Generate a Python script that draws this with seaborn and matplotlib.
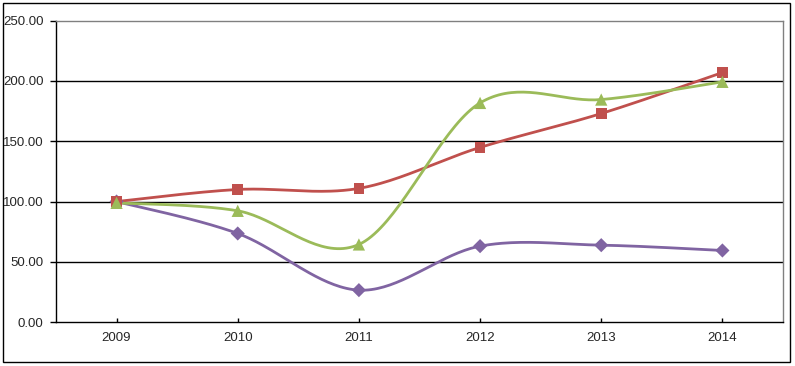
# Indices 2009-2014 (base 100), three series, Excel-style smoothed lines

import numpy as np
import pandas as pd
import matplotlib
matplotlib.use('Agg')
import matplotlib.pyplot as plt
import seaborn as sns

# dados
anos = ['2009', '2010', '2011', '2012', '2013', '2014']
serie_roxa = [100.0, 73.5, 26.5, 63.0, 63.8, 59.4]
serie_vermelha = [100.0, 110.0, 110.9, 144.9, 173.0, 207.0]
serie_verde = [98.9, 92.3, 64.4, 181.8, 184.6, 199.3]
yticks = [0, 50, 100, 150, 200, 250]

cores = {'roxa': '#8064A2', 'vermelha': '#C0504D', 'verde': '#9BBB59'}
marcadores = {'roxa': 'D', 'vermelha': 's', 'verde': '^'}
tamanhos = {'roxa': 52, 'vermelha': 58, 'verde': 78}


def suavizar(y, n=40):
    # spline de Catmull-Rom (igual ao "linha suavizada" do Excel)
    x = np.arange(len(y), dtype=float)
    p = np.column_stack([x, np.asarray(y, dtype=float)])
    p = np.vstack([p[0], p, p[-1]])
    pts = []
    t = np.linspace(0, 1, n)[:, None]
    for i in range(1, len(p) - 2):
        p0, p1, p2, p3 = p[i - 1], p[i], p[i + 1], p[i + 2]
        c1 = p1 + (p2 - p0) / 6
        c2 = p2 - (p3 - p1) / 6
        seg = ((1 - t) ** 3 * p1 + 3 * (1 - t) ** 2 * t * c1
               + 3 * (1 - t) * t ** 2 * c2 + t ** 3 * p2)
        pts.append(seg)
    pts = np.vstack(pts)
    return pts[:, 0], pts[:, 1]


series = {'roxa': serie_roxa, 'vermelha': serie_vermelha, 'verde': serie_verde}

sns.set_style('white')
plt.rcParams['font.family'] = ['Liberation Sans', 'DejaVu Sans']

fig = plt.figure(figsize=(7.95, 3.66), dpi=100)
ax = fig.add_axes([0.0704, 0.120, 0.9145, 0.8234])

# moldura externa
fig.patches.append(plt.Rectangle((0.004, 0.011), 0.990, 0.980, transform=fig.transFigure,
                                 fill=False, edgecolor='black', linewidth=1.0))

for nome in ['roxa', 'vermelha', 'verde']:
    xs, ys = suavizar(series[nome])
    curva = pd.DataFrame({'x': xs, 'y': ys})
    sns.lineplot(data=curva, x='x', y='y', ax=ax, color=cores[nome], linewidth=2.0,
                 sort=False, estimator=None)
    pontos = pd.DataFrame({'x': np.arange(len(anos)), 'y': series[nome]})
    sns.scatterplot(data=pontos, x='x', y='y', ax=ax, color=cores[nome],
                    marker=marcadores[nome], s=tamanhos[nome], edgecolor='none', zorder=5)

ax.set_xlim(-0.5, len(anos) - 0.5)
ax.set_ylim(0, 250)
ax.set_yticks(yticks)
ax.set_yticklabels([f'{v:.2f}' for v in yticks])
ax.set_xticks(range(len(anos)))
ax.set_xticklabels(anos)
ax.set_xlabel('')
ax.set_ylabel('')

for v in yticks[1:-1]:
    ax.axhline(v, color='black', linewidth=1.0, zorder=1)

ax.spines['left'].set_color('black')
ax.spines['bottom'].set_color('black')
ax.spines['top'].set_color('#808080')
ax.spines['right'].set_color('#808080')
for s in ax.spines.values():
    s.set_linewidth(1.0)

ax.tick_params(axis='y', direction='out', length=4, width=1, color='black',
               labelsize=9.5, pad=5, left=True)
ax.tick_params(axis='x', direction='in', length=3, width=1, color='black',
               labelsize=9.5, pad=7, bottom=True)

fig.savefig('out.png', dpi=100)
